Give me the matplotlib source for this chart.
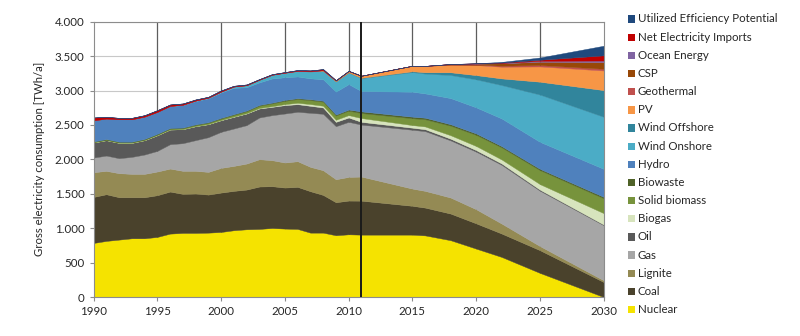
import matplotlib
matplotlib.use("Agg")
import matplotlib.pyplot as plt
from matplotlib.patches import Rectangle

plt.rcParams['font.family'] = ['Lato', 'DejaVu Sans']

years = list(range(1990, 2012)) + [2015, 2016, 2018, 2020, 2022, 2025, 2030]

nuclear = [785, 815, 834, 853, 853, 873, 921, 931, 931, 935, 945, 970, 984, 989, 1003, 994, 989, 935, 935, 897, 911, 906,
           906, 895, 825, 703, 582, 350, 0]
coal = [669, 678, 616, 597, 597, 606, 611, 567, 572, 553, 572, 572, 577, 616, 607, 596, 611, 602, 548, 480, 490, 494,
        419, 404, 387, 367, 340, 330, 218]
lignite = [359, 340, 349, 339, 339, 344, 334, 335, 330, 330, 359, 363, 378, 397, 378, 364, 373, 354, 359, 334, 344, 350,
           250, 243, 233, 205, 145, 60, 25]
gas = [213, 222, 218, 247, 281, 300, 354, 402, 446, 504, 524, 543, 558, 606, 654, 712, 718, 785, 820, 771, 800, 755,
       855, 868, 830, 837, 853, 805, 800]
oil = [219, 224, 223, 204, 209, 228, 214, 204, 203, 189, 169, 170, 169, 131, 121, 122, 111, 102, 92, 63, 63, 40,
       30, 28, 25, 22, 20, 15, 10]
biogas = [0, 0, 0, 0, 0, 0, 0, 0, 1, 2, 3, 4, 5, 8, 10, 15, 20, 25, 25, 30, 35, 55,
          38, 40, 50, 60, 58, 80, 165]
solid_biomass = [8, 8, 9, 9, 10, 12, 13, 15, 17, 19, 21, 25, 28, 33, 40, 48, 55, 58, 60, 62, 65, 73,
                 100, 105, 140, 162, 176, 204, 217]
biowaste = [7, 8, 8, 8, 8, 8, 8, 8, 8, 8, 10, 10, 10, 11, 11, 12, 12, 13, 13, 14, 15, 24,
            22, 22, 20, 20, 18, 18, 20]
hydro = [308, 298, 326, 326, 324, 317, 319, 327, 339, 347, 368, 382, 339, 327, 351, 330, 315, 303, 311, 333, 370, 295,
         363, 353, 380, 379, 402, 392, 407]
wind_onshore = [0, 0, 0, 0, 1, 2, 3, 5, 8, 10, 15, 20, 30, 40, 55, 65, 80, 100, 125, 150, 170, 190,
                285, 288, 335, 407, 485, 687, 756]
wind_offshore = [0, 0, 0, 0, 0, 0, 0, 0, 0, 0, 0, 0, 0, 0, 0, 0, 0, 0, 0, 0, 1, 3,
                 12, 20, 40, 62, 97, 187, 388]
pv = [0, 0, 0, 0, 0, 0, 0, 0, 0, 0, 0, 0, 0, 0, 0, 2, 3, 5, 8, 12, 20, 30,
      80, 92, 110, 146, 170, 222, 285]
geothermal = [0] * 22 + [0, 0, 2, 5, 15, 20, 25]
csp = [0] * 22 + [0, 0, 8, 15, 35, 48, 95]
ocean = [0] * 22 + [0, 0, 0, 3, 5, 14, 25]
imports = [40, 25, 20, 20, 20, 25, 20, 18, 15, 12, 15, 10, 10, 8, 8, 8, 10, 10, 15, 5, 3, 0,
           0, 0, 0, 3, 5, 15, 75]
efficiency = [0] * 22 + [0, 0, 0, 0, 10, 33, 140]

labels = ["Nuclear", "Coal", "Lignite", "Gas", "Oil", "Biogas", "Solid biomass", "Biowaste", "Hydro",
          "Wind Onshore", "Wind Offshore", "PV", "Geothermal", "CSP", "Ocean Energy",
          "Net Electricity Imports", "Utilized Efficiency Potential"]
series = [nuclear, coal, lignite, gas, oil, biogas, solid_biomass, biowaste, hydro, wind_onshore,
          wind_offshore, pv, geothermal, csp, ocean, imports, efficiency]
colors = ["#f5e300", "#4a422c", "#948a54", "#a6a6a6", "#595959", "#d7e4bd", "#77933c", "#4f6228",
          "#4f81bd", "#4bacc6", "#31859c", "#f79646", "#c0504d", "#984807", "#8064a2", "#c00000", "#1f497d"]

fig = plt.figure(figsize=(8.0, 3.36), dpi=100)
ax = fig.add_axes([93.5 / 800, 1 - 297 / 336, (603.7 - 93.5) / 800, (297 - 21.7) / 336])

polys = ax.stackplot(years, *series, colors=colors, zorder=2)
for p, c in zip(polys, colors):
    p.set_edgecolor(c)
    p.set_linewidth(0.3)

ax.set_xlim(1990, 2030)
ax.set_ylim(0, 4000)
ax.set_xticks(range(1990, 2031, 5))
ax.set_yticks(range(0, 4001, 500))
ax.set_yticklabels([f"{v:,}".replace(",", ".") for v in range(0, 4001, 500)])

for v in range(500, 4001, 500):
    ax.axhline(v, color="#c8c8c8", lw=0.8, zorder=1)
for v in range(1995, 2030, 5):
    ax.axvline(v, color="#5e5e5e", lw=0.9, zorder=1)
ax.axvline(2011, color="#1a1a1a", lw=1.4, zorder=5)

for s in ax.spines.values():
    s.set_color("#8c8c8c")
    s.set_linewidth(0.8)
ax.tick_params(axis="both", colors="#8c8c8c", labelcolor="#262626", labelsize=8.3, length=3, width=0.8)
ax.set_ylabel("Gross electricity consumption [TWh/a]", fontsize=8.2, color="#262626", labelpad=7)

# legend on the right
top_px = 19.0
step_px = 18.16
for i, (lab, c) in enumerate(zip(labels[::-1], colors[::-1])):
    yc = top_px + i * step_px
    fig.add_artist(Rectangle((628 / 800, 1 - (yc + 3.7) / 336), 7.3 / 800, 7.3 / 336,
                             transform=fig.transFigure, facecolor=c, edgecolor="none"))
    fig.text(638 / 800, 1 - yc / 336, lab, fontsize=8.3, color="#262626", va="center", ha="left")

fig.savefig("out.png", dpi=100)
